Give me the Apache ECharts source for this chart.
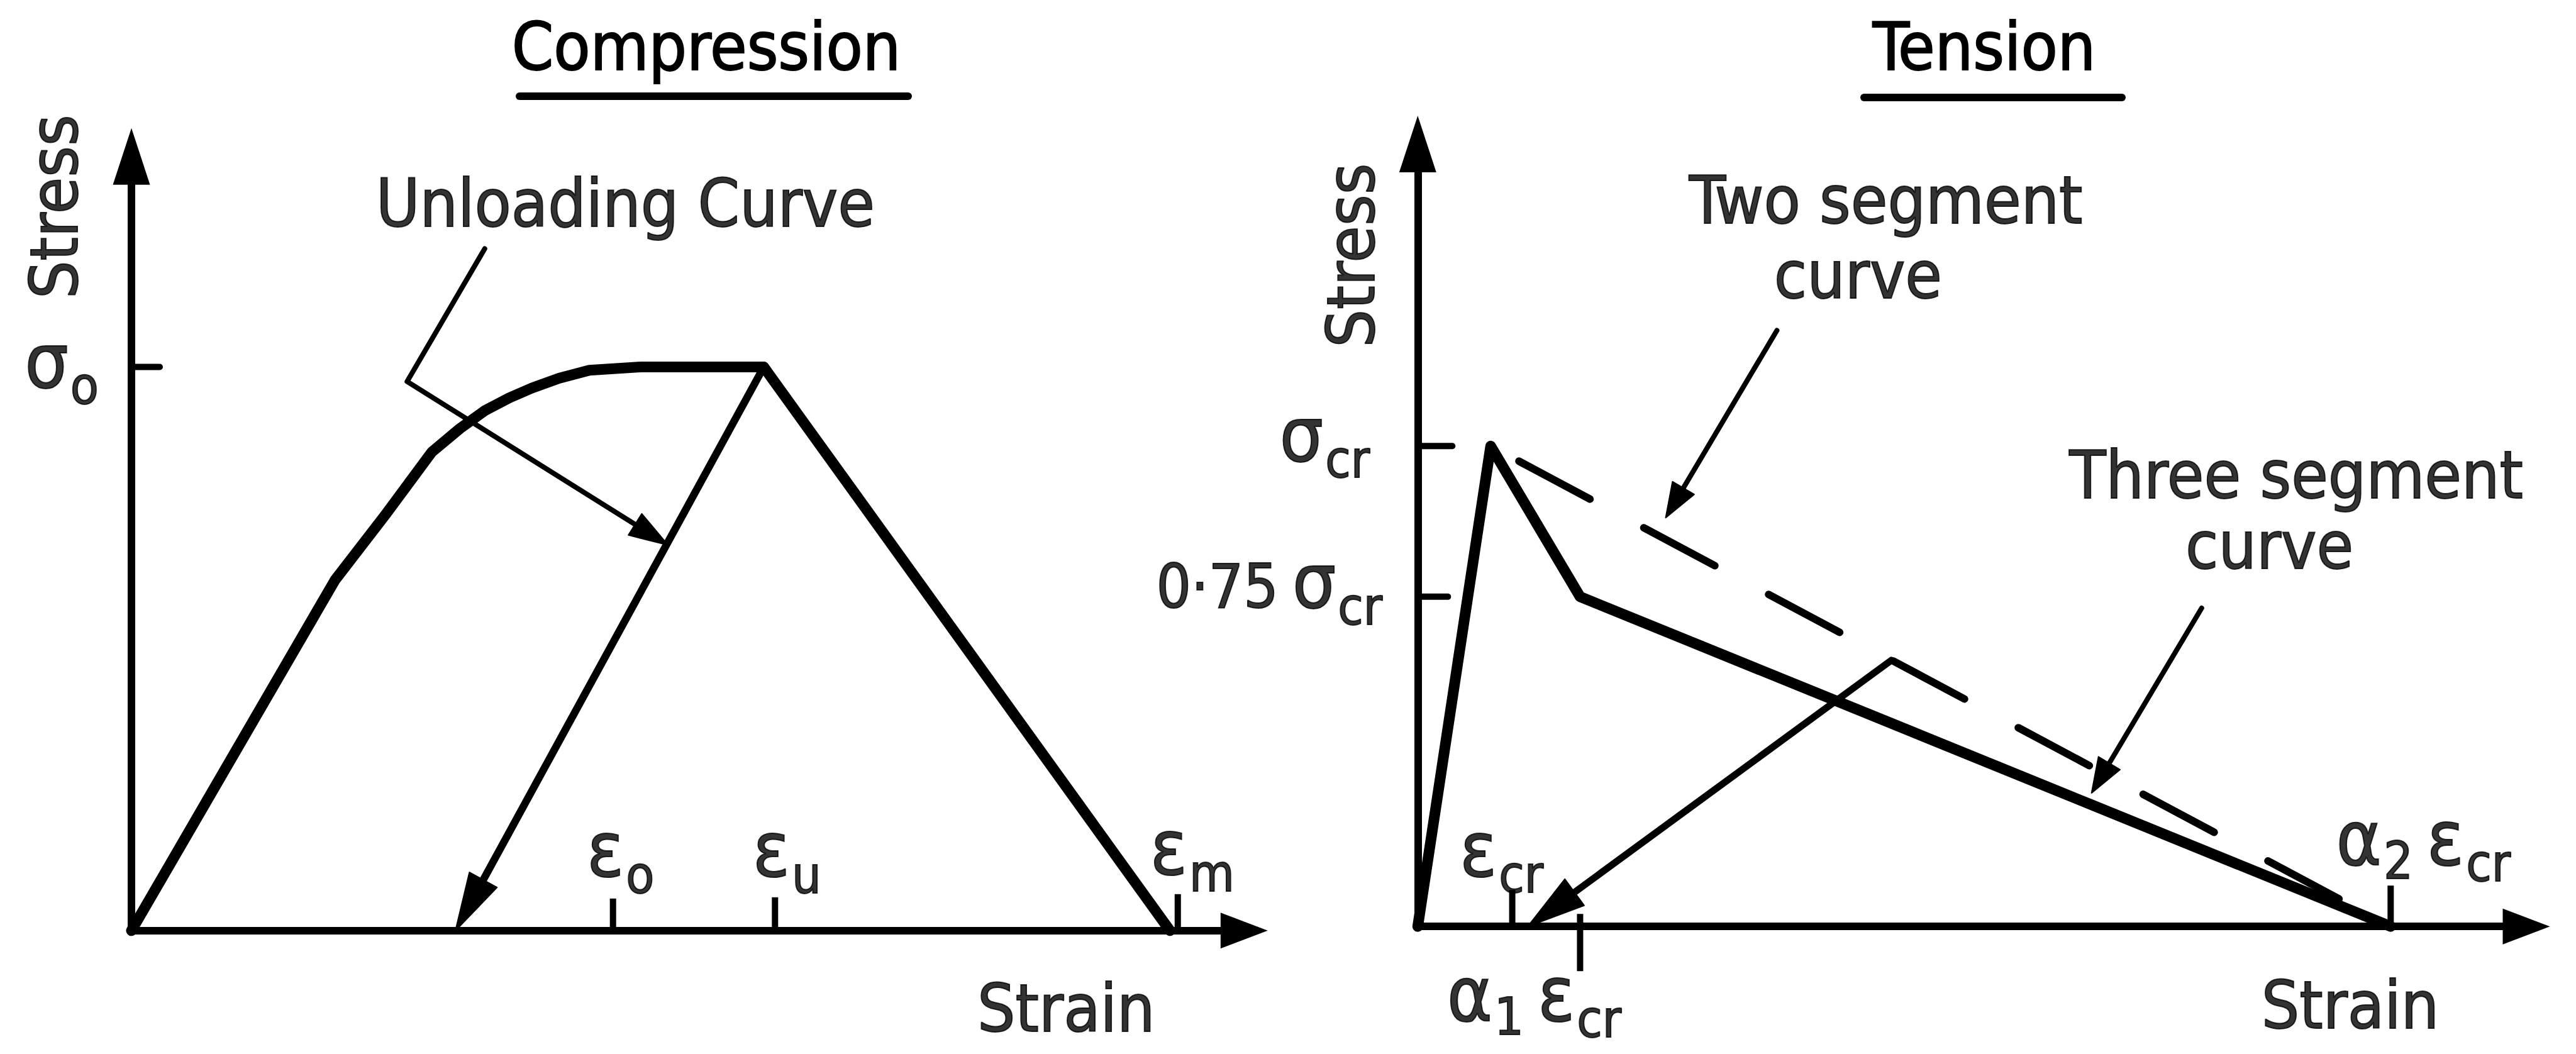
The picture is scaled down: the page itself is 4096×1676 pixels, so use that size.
<!DOCTYPE html>
<html>
<head>
<meta charset="utf-8">
<title>Stress-strain models: compression and tension</title>
<script src="https://cdn.jsdelivr.net/npm/echarts@6/dist/echarts.min.js"></script>
<style>
  html, body { margin: 0; padding: 0; background: #ffffff; }
  #chart { width: 4096px; height: 1676px; }
</style>
</head>
<body>
<div id="chart"></div>
<script>
// ---------------- data ----------------
const panelTitles = ['Compression', 'Tension'];

// Compression (arbitrary strain / stress units)
const compEnvelope  = [[0, 0], [18.1, 43.3], [22.6, 51.4], [26.7, 59.1], [29.2, 62.0], [31.4, 64.2],
                       [33.6, 65.8], [35.6, 67.0], [38.0, 68.2], [40.7, 69.2], [45.3, 69.6], [56.2, 69.6]];
const compSoftening = [[56.2, 69.6], [92.3, 0]];
const compUnloading = [[56.2, 69.6], [28.8, 0]];
const compLeader    = [[31.4, 84.2], [24.5, 67.8], [47.7, 47.6]];
const compStrainTicks = [42.8, 57.2, 93.0];
const compStrainNames = [[['ε', 'o']], [['ε', 'u']], [['ε', 'm']]];
const compStressTicks = [69.6];
const compStressNames = [[['σ', 'o']]];
const compNotes = [['Unloading Curve', 43.9, 89.8]];

// Tension
const tensThreeSegment = [[0, 0], [6.56, 59.0], [14.6, 40.5], [87.5, 0]];
const tensTwoSegment   = [[6.56, 59.0], [87.5, 0]];
const tensUnloading    = [[42.6, 32.7], [9.9, 0]];
const tensTwoPointer   = [[32.3, 73.2], [22.3, 50.2]];
const tensThreePointer = [[70.5, 39.1], [60.6, 16.4]];
const tensStrainTicks = [8.5, 14.6, 87.5];
const tensStrainNames = [[['ε', 'cr']], [['α', '1'], ['ε', 'cr']], [['α', '2'], ['ε', 'cr']]];
const tensStressTicks = [59.0, 40.5];
const tensStressNames = [[['σ', 'cr']], [['0·75', null], ['σ', 'cr']]];
const tensNotes = [['Two segment', 42.1, 89.2], ['curve', 39.6, 80.0], ['Three segment', 79.0, 55.4], ['curve', 76.6, 46.8]];

// ---------------- layout & style ----------------
const FONT = '"DejaVu Sans Condensed", "DejaVu Sans", sans-serif';
const TEXT_SIZE = 106;
const INK = '#000000';
const TEXT_WEIGHT = 2;   // outline that thickens the lettering slightly

const grids = [
  { left: 209, top: 248.7, width: 1769.3, height: 1231.1, xMax: 98.9, yMax: 95.6 },
  { left: 2254.3, top: 229, width: 1762.7, height: 1244.2, xMax: 99.7, yMax: 96.1 }
];

// tick lengths in px: up/down for strain ticks, right for stress ticks
const compStrainTickLen = [{ up: 51, down: 0 }, { up: 53, down: 0 }, { up: 58, down: 0 }];
const tensStrainTickLen = [{ up: 58, down: 0 }, { up: 20, down: 71 }, { up: 65, down: 0 }];
const compStressTickLen = [{ right: 45 }];
const tensStressTickLen = [{ right: 55 }, { right: 48 }];

// label offsets (px) from their tick anchors
const compStrainLabelOffset = [[12, -126], [19, -126], [23, -129]];
const compStressLabelOffset = [[-111, -7]];
const tensStrainLabelOffset = [[-17, -120], [-73, 110], [52, -138]];
const tensStressLabelOffset = [[-148, -16], [-236, -22]];

// rich-text pieces for symbols with subscripts (all share one baseline)
const BASE = 118;
function tok(size, drop, padLeft) {
  return {
    fontFamily: FONT, fontSize: size, color: INK, verticalAlign: 'top',
    textBorderColor: INK, textBorderWidth: TEXT_WEIGHT,
    padding: [Math.max(0, BASE + drop - 0.346 * size - size / 2), 0, 0, padLeft || 0]
  };
}
const RICH = {
  g: tok(122, 0, 0),
  G: tok(122, 0, 22),
  s: tok(82, 26, 3),
  d: tok(82, 22, 3),
  n: tok(97, 0, 0)
};
function richName(parts) {
  return parts.map(function (p, i) {
    const head = p[0], sub = p[1];
    const greek = /[α-ω]/.test(head);
    let out = '{' + (greek ? (i ? 'G' : 'g') : 'n') + '|' + head + '}';
    if (sub) out += '{' + (/\d/.test(sub) ? 'd' : 's') + '|' + sub + '}';
    return out;
  }).join('');
}

// ---------------- series builders ----------------
function lineSeries(g, data, style) {
  return {
    type: 'line', xAxisIndex: g, yAxisIndex: g, data: data, silent: true,
    symbol: 'none', showSymbol: false, animation: false, clip: false, z: 3, smooth: false,
    lineStyle: Object.assign({ color: INK, cap: 'round', join: 'round' }, style)
  };
}

function arrowSeries(g, pts, spec) {
  return {
    type: 'custom', xAxisIndex: g, yAxisIndex: g, silent: true, clip: false, z: 4,
    data: [pts[pts.length - 1]],
    renderItem: function (params, api) {
      const p = pts.map(function (q) { return api.coord(q); });
      const tip = p[p.length - 1], prev = p[p.length - 2];
      let dx = tip[0] - prev[0], dy = tip[1] - prev[1];
      const d = Math.hypot(dx, dy); dx /= d; dy /= d;
      const bx = tip[0] - dx * spec.head, by = tip[1] - dy * spec.head;
      const hw = spec.headWidth / 2;
      const shaft = p.slice(0, -1).concat([[tip[0] - dx * spec.head * 0.7, tip[1] - dy * spec.head * 0.7]]);
      return {
        type: 'group', children: [
          { type: 'polyline', shape: { points: shaft },
            style: { stroke: INK, fill: 'none', lineWidth: spec.width, lineCap: 'round', lineJoin: 'round' } },
          { type: 'polygon', shape: { points: [tip, [bx - dy * hw, by + dx * hw], [bx + dy * hw, by - dx * hw]] },
            style: { fill: INK, stroke: INK, lineWidth: 2, lineJoin: 'round' } }
        ]
      };
    }
  };
}

function strainTickSeries(g, values, lens) {
  return {
    type: 'custom', xAxisIndex: g, yAxisIndex: g, silent: true, clip: false, z: 2,
    data: values.map(function (v) { return [v, 0]; }),
    renderItem: function (params, api) {
      const p = api.coord([api.value(0), 0]);
      const L = lens[params.dataIndex];
      return { type: 'line', shape: { x1: p[0], y1: p[1] - L.up, x2: p[0], y2: p[1] + L.down },
        style: { stroke: INK, lineWidth: 10 } };
    }
  };
}

function stressTickSeries(g, values, lens) {
  return {
    type: 'custom', xAxisIndex: g, yAxisIndex: g, silent: true, clip: false, z: 2,
    data: values.map(function (v) { return [0, v]; }),
    renderItem: function (params, api) {
      const p = api.coord([0, api.value(1)]);
      const L = lens[params.dataIndex];
      return { type: 'line', shape: { x1: p[0], y1: p[1], x2: p[0] + L.right, y2: p[1] },
        style: { stroke: INK, lineWidth: 10, lineCap: 'round' } };
    }
  };
}

function labelSeries(g, items) {
  return {
    type: 'scatter', xAxisIndex: g, yAxisIndex: g, silent: true, clip: false, z: 5,
    symbolSize: 1, itemStyle: { color: 'rgba(0,0,0,0)' },
    label: { show: true, position: 'inside', color: INK, fontFamily: FONT, fontSize: TEXT_SIZE,
      textBorderColor: INK, textBorderWidth: TEXT_WEIGHT, rich: RICH },
    data: items
  };
}

function tickLabelItems(values, names, offsets, axis) {
  return values.map(function (v, i) {
    return {
      value: axis === 'x' ? [v, 0] : [0, v],
      label: { formatter: richName(names[i]), offset: offsets[i] }
    };
  });
}

function noteItems(notes) {
  return notes.map(function (n) {
    return { value: [n[1], n[2]], label: { formatter: n[0] } };
  });
}

const series = [
  // Compression panel
  lineSeries(0, compEnvelope, { width: 17 }),
  lineSeries(0, compSoftening, { width: 17 }),
  arrowSeries(0, compUnloading, { width: 12, head: 92, headWidth: 50 }),
  arrowSeries(0, compLeader, { width: 8, head: 62, headWidth: 40 }),
  strainTickSeries(0, compStrainTicks, compStrainTickLen),
  stressTickSeries(0, compStressTicks, compStressTickLen),
  labelSeries(0, tickLabelItems(compStrainTicks, compStrainNames, compStrainLabelOffset, 'x')),
  labelSeries(0, tickLabelItems(compStressTicks, compStressNames, compStressLabelOffset, 'y')),
  labelSeries(0, noteItems(compNotes)),
  labelSeries(0, [{ value: [grids[0].xMax, 0], label: { formatter: 'Strain', offset: [-283, 124] } }]),
  labelSeries(0, [{ value: [0, grids[0].yMax], label: { formatter: 'Stress', offset: [-80, -123], rotate: 90 } }]),

  // Tension panel
  lineSeries(1, tensThreeSegment, { width: 17 }),
  lineSeries(1, tensTwoSegment, { width: 12, type: [128, 97], dashOffset: 174 }),
  arrowSeries(1, tensUnloading, { width: 11, head: 92, headWidth: 52 }),
  arrowSeries(1, tensTwoPointer, { width: 8, head: 55, headWidth: 40 }),
  arrowSeries(1, tensThreePointer, { width: 8, head: 55, headWidth: 40 }),
  strainTickSeries(1, tensStrainTicks, tensStrainTickLen),
  stressTickSeries(1, tensStressTicks, tensStressTickLen),
  labelSeries(1, tickLabelItems(tensStrainTicks, tensStrainNames, tensStrainLabelOffset, 'x')),
  labelSeries(1, tickLabelItems(tensStressTicks, tensStressNames, tensStressLabelOffset, 'y')),
  labelSeries(1, noteItems(tensNotes)),
  labelSeries(1, [{ value: [grids[1].xMax, 0], label: { formatter: 'Strain', offset: [-280, 125] } }]),
  labelSeries(1, [{ value: [0, grids[1].yMax], label: { formatter: 'Stress', offset: [-177, -106], rotate: 90 } }])
];

function axis(max, arrowSize) {
  return {
    type: 'value', min: 0, max: max,
    axisLine: { show: true, onZero: false, symbol: ['none', 'triangle'], symbolSize: arrowSize,
      lineStyle: { color: INK, width: 12, cap: 'round' } },
    axisTick: { show: false }, axisLabel: { show: false }, splitLine: { show: false }
  };
}

const titleFont = TEXT_SIZE + 'px ' + FONT;
const option = {
  backgroundColor: '#ffffff',
  animation: false,
  grid: grids.map(function (g) {
    return { left: g.left, top: g.top, width: g.width, height: g.height, containLabel: false };
  }),
  xAxis: grids.map(function (g, i) { return Object.assign(axis(g.xMax, [57, 75]), { gridIndex: i }); }),
  yAxis: grids.map(function (g, i) { return Object.assign(axis(g.yMax, [59, 90]), { gridIndex: i }); }),
  graphic: [
    { type: 'text', x: 1123, y: 74, silent: true,
      style: { text: panelTitles[0], font: titleFont, fill: INK, stroke: INK, lineWidth: TEXT_WEIGHT,
        textAlign: 'center', textVerticalAlign: 'middle' } },
    { type: 'line', silent: true, shape: { x1: 826, y1: 153, x2: 1444, y2: 153 },
      style: { stroke: INK, lineWidth: 12, lineCap: 'round' } },
    { type: 'text', x: 3155, y: 74, silent: true,
      style: { text: panelTitles[1], font: titleFont, fill: INK, stroke: INK, lineWidth: TEXT_WEIGHT,
        textAlign: 'center', textVerticalAlign: 'middle' } },
    { type: 'line', silent: true, shape: { x1: 2964, y1: 155, x2: 3374, y2: 155 },
      style: { stroke: INK, lineWidth: 12, lineCap: 'round' } }
  ],
  series: series
};

const chart = echarts.init(document.getElementById('chart'), null, { renderer: 'svg', width: 4096, height: 1676 });
chart.setOption(option);
</script>
</body>
</html>
